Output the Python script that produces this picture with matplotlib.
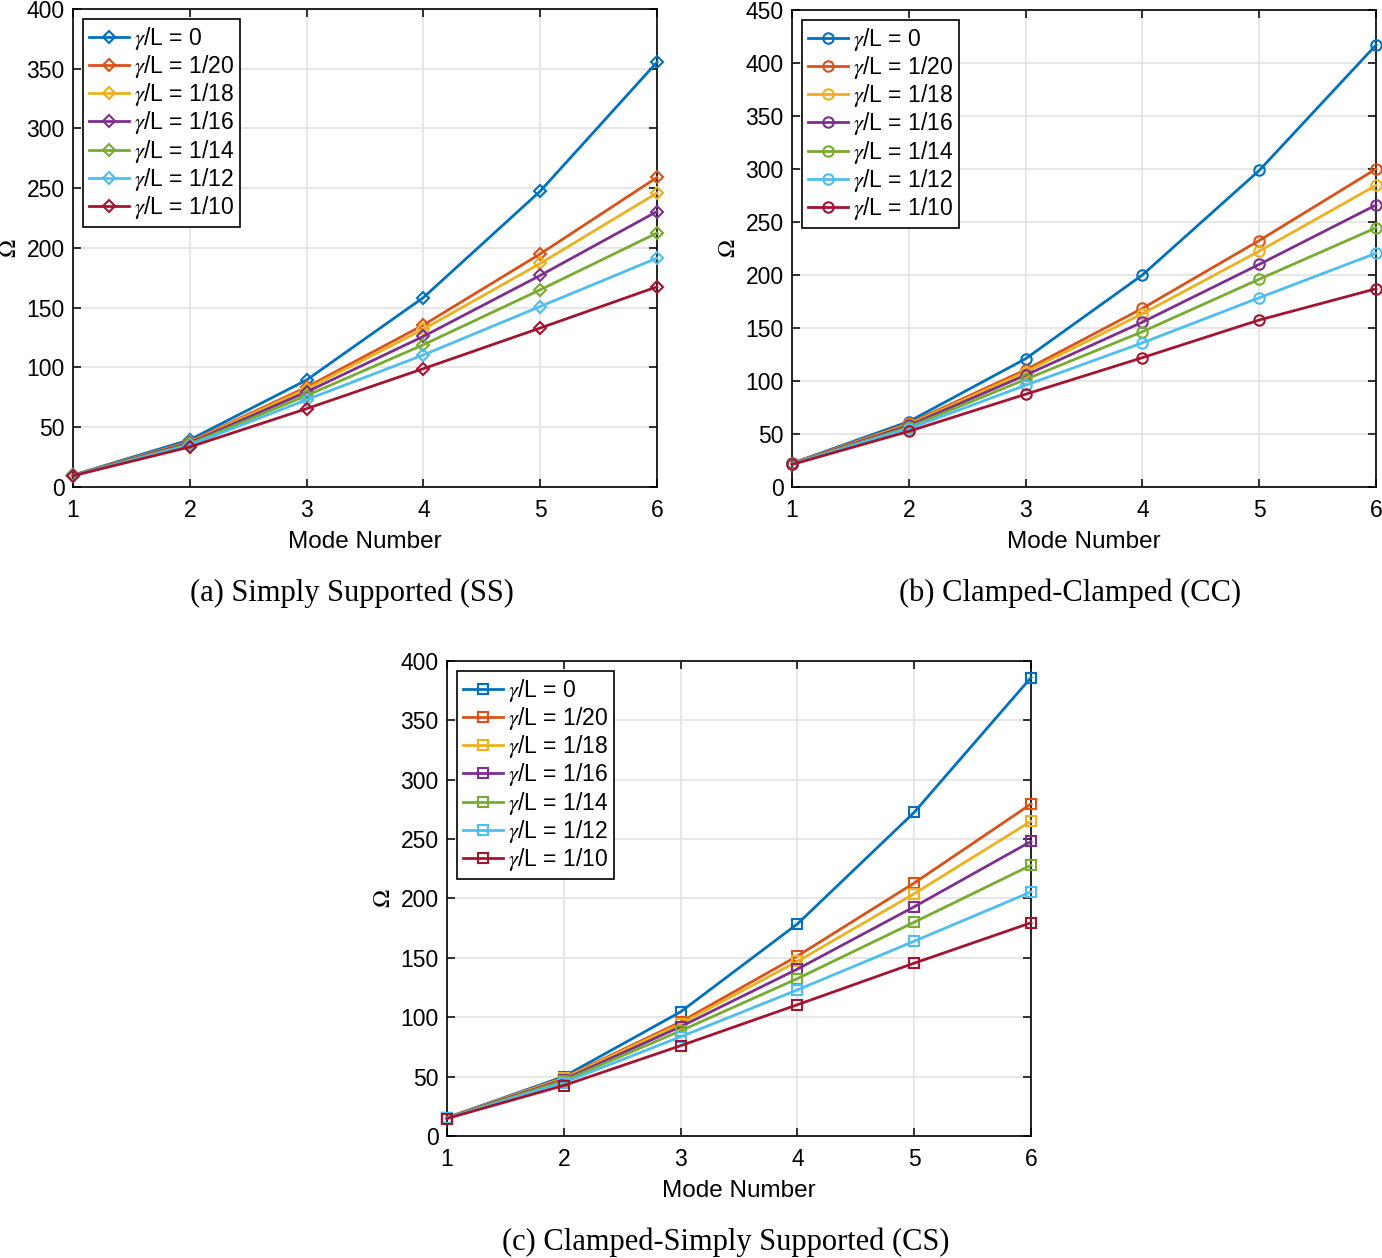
import numpy as np
import matplotlib
matplotlib.use("Agg")
import matplotlib.pyplot as plt

plt.rcParams['font.family'] = ['Liberation Sans', 'DejaVu Sans']
plt.rcParams['mathtext.fontset'] = 'stix'

# numéros de mode
modes = [1, 2, 3, 4, 5, 6]
labels = ['0', '1/20', '1/18', '1/16', '1/14', '1/12', '1/10']
couleurs = ['#0072BD', '#D95319', '#EDB120', '#7E2F8E', '#77AC30', '#4DBEEE', '#A2142F']

# (a) Simply Supported
ss_0 = [9.9, 39.5, 89.5, 158.5, 247.5, 355.5]
ss_20 = [9.8, 38.0, 83.5, 135.5, 195.0, 259.0]
ss_18 = [9.7, 37.5, 82.0, 132.0, 187.0, 246.0]
ss_16 = [9.7, 37.0, 79.5, 126.0, 177.0, 230.5]
ss_14 = [9.6, 36.0, 76.5, 119.0, 165.0, 212.5]
ss_12 = [9.5, 35.0, 73.0, 110.5, 151.0, 191.5]
ss_10 = [9.4, 33.5, 65.5, 99.0, 133.0, 167.5]

# (b) Clamped-Clamped
cc_0 = [22.4, 61.7, 121.0, 200.0, 298.6, 417.0]
cc_20 = [22.2, 60.0, 110.5, 168.5, 232.5, 300.0]
cc_18 = [22.1, 59.0, 108.5, 163.5, 222.5, 284.5]
cc_16 = [22.0, 58.0, 105.5, 155.5, 210.0, 266.0]
cc_14 = [21.8, 56.5, 101.5, 146.5, 196.0, 244.5]
cc_12 = [21.6, 55.0, 96.0, 136.0, 178.5, 220.5]
cc_10 = [21.2, 52.5, 87.5, 122.0, 157.5, 187.0]

# (c) Clamped-Simply Supported
cs_0 = [15.4, 50.0, 104.5, 178.5, 272.5, 386.0]
cs_20 = [15.3, 49.0, 96.0, 151.5, 213.0, 279.5]
cs_18 = [15.2, 48.5, 94.5, 147.0, 204.0, 265.0]
cs_16 = [15.1, 47.5, 92.0, 140.5, 193.0, 248.0]
cs_14 = [15.0, 46.5, 88.5, 132.5, 180.0, 228.0]
cs_12 = [14.9, 45.0, 83.5, 123.0, 164.0, 205.5]
cs_10 = [14.7, 42.5, 76.0, 110.5, 145.5, 179.5]

panneaux = [
    ([0.0528, 0.6129, 0.4226, 0.380], [ss_0, ss_20, ss_18, ss_16, ss_14, ss_12, ss_10], 'D', 6.5, 400, 50,
     '(a) Simply Supported (SS)', 352),
    ([0.5731, 0.6129, 0.4226, 0.3792], [cc_0, cc_20, cc_18, cc_16, cc_14, cc_12, cc_10], 'o', 7.5, 450, 50,
     '(b) Clamped-Clamped (CC)', 1070),
    ([0.3234, 0.0970, 0.4226, 0.3776], [cs_0, cs_20, cs_18, cs_16, cs_14, cs_12, cs_10], 's', 6.5, 400, 50,
     '(c) Clamped-Simply Supported (CS)', 726),
]
legendes_y = [593, 593, 1242]

fig = plt.figure(figsize=(13.82, 12.58), dpi=100)

for i, (pos, series, marqueur, ms, ymax, pas, titre, cx) in enumerate(panneaux):
    ax = fig.add_axes(pos)
    for s, lab, c in zip(series, labels, couleurs):
        ax.plot(modes, s, color=c, lw=2.0, marker=marqueur, ms=ms, mfc='none', mew=1.5,
                label=r'$\gamma$/L = ' + lab, clip_on=False, zorder=3)
    ax.set_xlim(1, 6)
    ax.set_ylim(0, ymax)
    ax.set_xticks(modes)
    ax.set_yticks(np.arange(0, ymax + 1, pas))
    ax.grid(True, color='#e3e3e3', lw=1.2)
    ax.set_axisbelow(True)
    ax.tick_params(direction='in', length=6, width=1.1, labelsize=16.5, top=True, right=True, pad=6)
    ax.tick_params(axis='x', pad=9)
    for sp in ax.spines.values():
        sp.set_linewidth(1.2)
    ax.set_xlabel('Mode Number', fontsize=17.5, labelpad=6)
    ax.set_ylabel(r'$\Omega$', fontsize=17.5, labelpad=4)
    leg = ax.legend(loc='upper left', fontsize=16.5, frameon=True, fancybox=False, framealpha=1,
                    edgecolor='black', handlelength=1.75, handletextpad=0.2, labelspacing=0.05,
                    borderpad=0.25, borderaxespad=0.45)
    leg.get_frame().set_linewidth(1.2)
    leg.set_zorder(5)
    fig.text(cx / 1382, 1 - legendes_y[i] / 1258, titre, ha='center', va='center',
             fontsize=22, family='Liberation Serif')

plt.savefig('out.png', dpi=100)
